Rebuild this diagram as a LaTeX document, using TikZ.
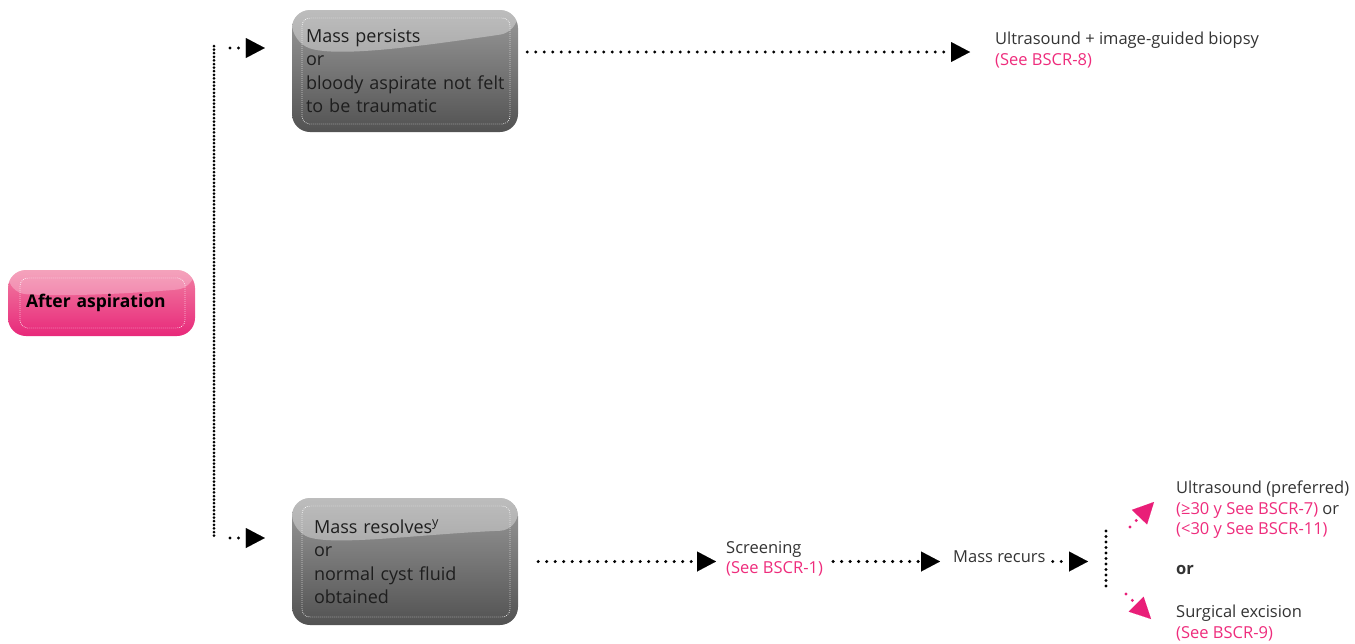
\documentclass[tikz,border=0pt]{standalone}
\usepackage{fontspec}
\setmainfont{Open Sans}
\usetikzlibrary{arrows.meta,calc}
\definecolor{pinktxt}{HTML}{EE2C7C}
\definecolor{pinkarrow}{HTML}{E91E78}
\definecolor{txtgray}{HTML}{333333}
\definecolor{boxtxt}{HTML}{1E1E1E}
\definecolor{graytop}{HTML}{9A9A9A}
\definecolor{graybot}{HTML}{525252}
\definecolor{pinktop}{HTML}{F17FA2}
\definecolor{pinkbot}{HTML}{E8287A}
\newcommand{\ppbb}{path picture bounding box}
\tikzset{
  dotline/.style={line width=3.4pt, line cap=round, dash pattern=on 0pt off 8.5pt, black},
  densedots/.style={line width=3pt, line cap=round, dash pattern=on 0pt off 3.6pt, black},
  bigtip/.style={-{Triangle[length=19pt,width=20pt,line width=0.01pt]}},
  pinkdots/.style={line width=3.4pt, line cap=round, dash pattern=on 0pt off 9pt, pinkarrow,
    -{Triangle[length=21pt,width=21pt,line width=0.01pt]}},
  innerline/.style={white, line width=.7pt, dash pattern=on .7pt off 1.3pt, rounded corners=8pt},
  graybox/.style={rounded corners=18pt, minimum width=226pt, minimum height=122pt,
    top color=graytop, bottom color=graybot, text=boxtxt, align=left,
    font=\fontsize{18}{23.5}\selectfont, inner sep=0pt},
  txt/.style={font=\fontsize{16.5}{20.5}\selectfont, text=txtgray, align=left, inner sep=0pt},
}
\begin{document}
\begin{tikzpicture}[x=1pt,y=-1pt]
\useasboundingbox (0,0) rectangle (1355,643);

% start node
\node[rounded corners=18pt, minimum width=187pt, minimum height=66pt, inner sep=0pt,
  top color=pinktop, bottom color=pinkbot, text=black, text width=151pt, align=left,
  font=\bfseries\fontsize{17.5}{20}\selectfont,
  path picture={
    \fill[white,opacity=.28] (\ppbb.north west) -- ($(\ppbb.north west)+(0,23)$)
      .. controls ($(\ppbb.north west)+(60,27)$) and ($(\ppbb.north west)+(130,23)$)
      .. ($(\ppbb.north east)+(0,18)$) -- (\ppbb.north east) -- cycle;
    \draw[innerline] ($(\ppbb.north west)+(12,8)$) rectangle ($(\ppbb.south east)+(-10,-8)$);
  }] (start) at (101.5,303) {\mbox{After aspiration}};

% branch boxes
\node[graybox, text width=198pt,
  path picture={
    \fill[white,opacity=.35] (\ppbb.north west) -- ($(\ppbb.north west)+(0,32)$)
      .. controls ($(\ppbb.north west)+(45,48)$) and ($(\ppbb.north west)+(130,36)$)
      .. ($(\ppbb.north east)+(0,22)$) -- (\ppbb.north east) -- cycle;
    \draw[innerline] ($(\ppbb.north west)+(10,8)$) rectangle ($(\ppbb.south east)+(-8,-8)$);
  }] (persist) at (405,71)
  {\mbox{Mass persists}\\or\\\mbox{bloody aspirate not felt}\\\mbox{to be traumatic}};

\node[graybox, minimum height=127pt, text width=182pt,
  path picture={
    \fill[white,opacity=.35] (\ppbb.north west) -- ($(\ppbb.north west)+(0,34)$)
      .. controls ($(\ppbb.north west)+(45,48)$) and ($(\ppbb.north west)+(130,36)$)
      .. ($(\ppbb.north east)+(0,32)$) -- (\ppbb.north east) -- cycle;
    \draw[innerline] ($(\ppbb.north west)+(10,8)$) rectangle ($(\ppbb.south east)+(-8,-8)$);
  }] (resolve) at (405,561.5)
  {\mbox{Mass resolves\textsuperscript{y}}\\or\\\mbox{normal cyst fluid}\\obtained};

% outcome texts
\node[txt, anchor=west] (biopsy) at (995,50)
  {Ultrasound + image-guided biopsy\\\textcolor{pinktxt}{(See BSCR-8)}};
\node[txt, anchor=west] (screen) at (726,558.5)
  {Screening\\\textcolor{pinktxt}{(See BSCR-1)}};
\node[txt, anchor=west] (recur) at (953,557) {Mass recurs};
\node[txt, anchor=west] (us) at (1176,510)
  {Ultrasound (preferred)\\\textcolor{pinktxt}{(≥30 y See BSCR-7)} or\\\textcolor{pinktxt}{(<30 y See BSCR-11)}};
\node[txt, anchor=west, font=\bfseries\fontsize{16.5}{20}\selectfont] (ortxt) at (1176,570) {or};
\node[txt, anchor=west] (excision) at (1176,623)
  {Surgical excision\\\textcolor{pinktxt}{(See BSCR-9)}};

% branching lines
\coordinate (vt) at (214,46);
\coordinate (vb) at (214,539);
\draw[densedots] (vt) -- (vb);
\draw[dotline, bigtip] ($(vt)+(16,2)$) -- ($(persist.west |- vt)+(-27,2)$);
\draw[dotline, bigtip] ($(vb)+(16,-1)$) -- ($(resolve.west |- vb)+(-27,-1)$);

\draw[dotline, bigtip, shorten <=9pt] ($(persist.east |- biopsy.west)+(0,2)$) -- ($(biopsy.west)+(-25,2)$);
\draw[dotline, bigtip, shorten <=20pt, shorten >=10pt] (resolve.east) -- (screen.west |- resolve.east);
\draw[dotline, bigtip, shorten <=10pt, shorten >=13pt] (screen.east |- resolve.east) -- (recur.west |- resolve.east);

\coordinate (rv) at (1106,531);
\coordinate (rvb) at (1106,590);
\draw[dotline, bigtip, shorten <=7pt] (recur.east |- resolve.east) -- ($(rv |- resolve.east)+(-18,0)$);
\draw[line width=3.2pt, line cap=round, dash pattern=on 0pt off 5.5pt] (rv) -- (rvb);

% pink choice arrows
\coordinate (upfrom) at (1130,527);
\coordinate (downfrom) at (1126,594);
\draw[pinkdots] (upfrom) -- ($(us.west)+(-22,-8)$);
\draw[pinkdots] (downfrom) -- ($(excision.west)+(-25,-4)$);
\end{tikzpicture}
\end{document}
